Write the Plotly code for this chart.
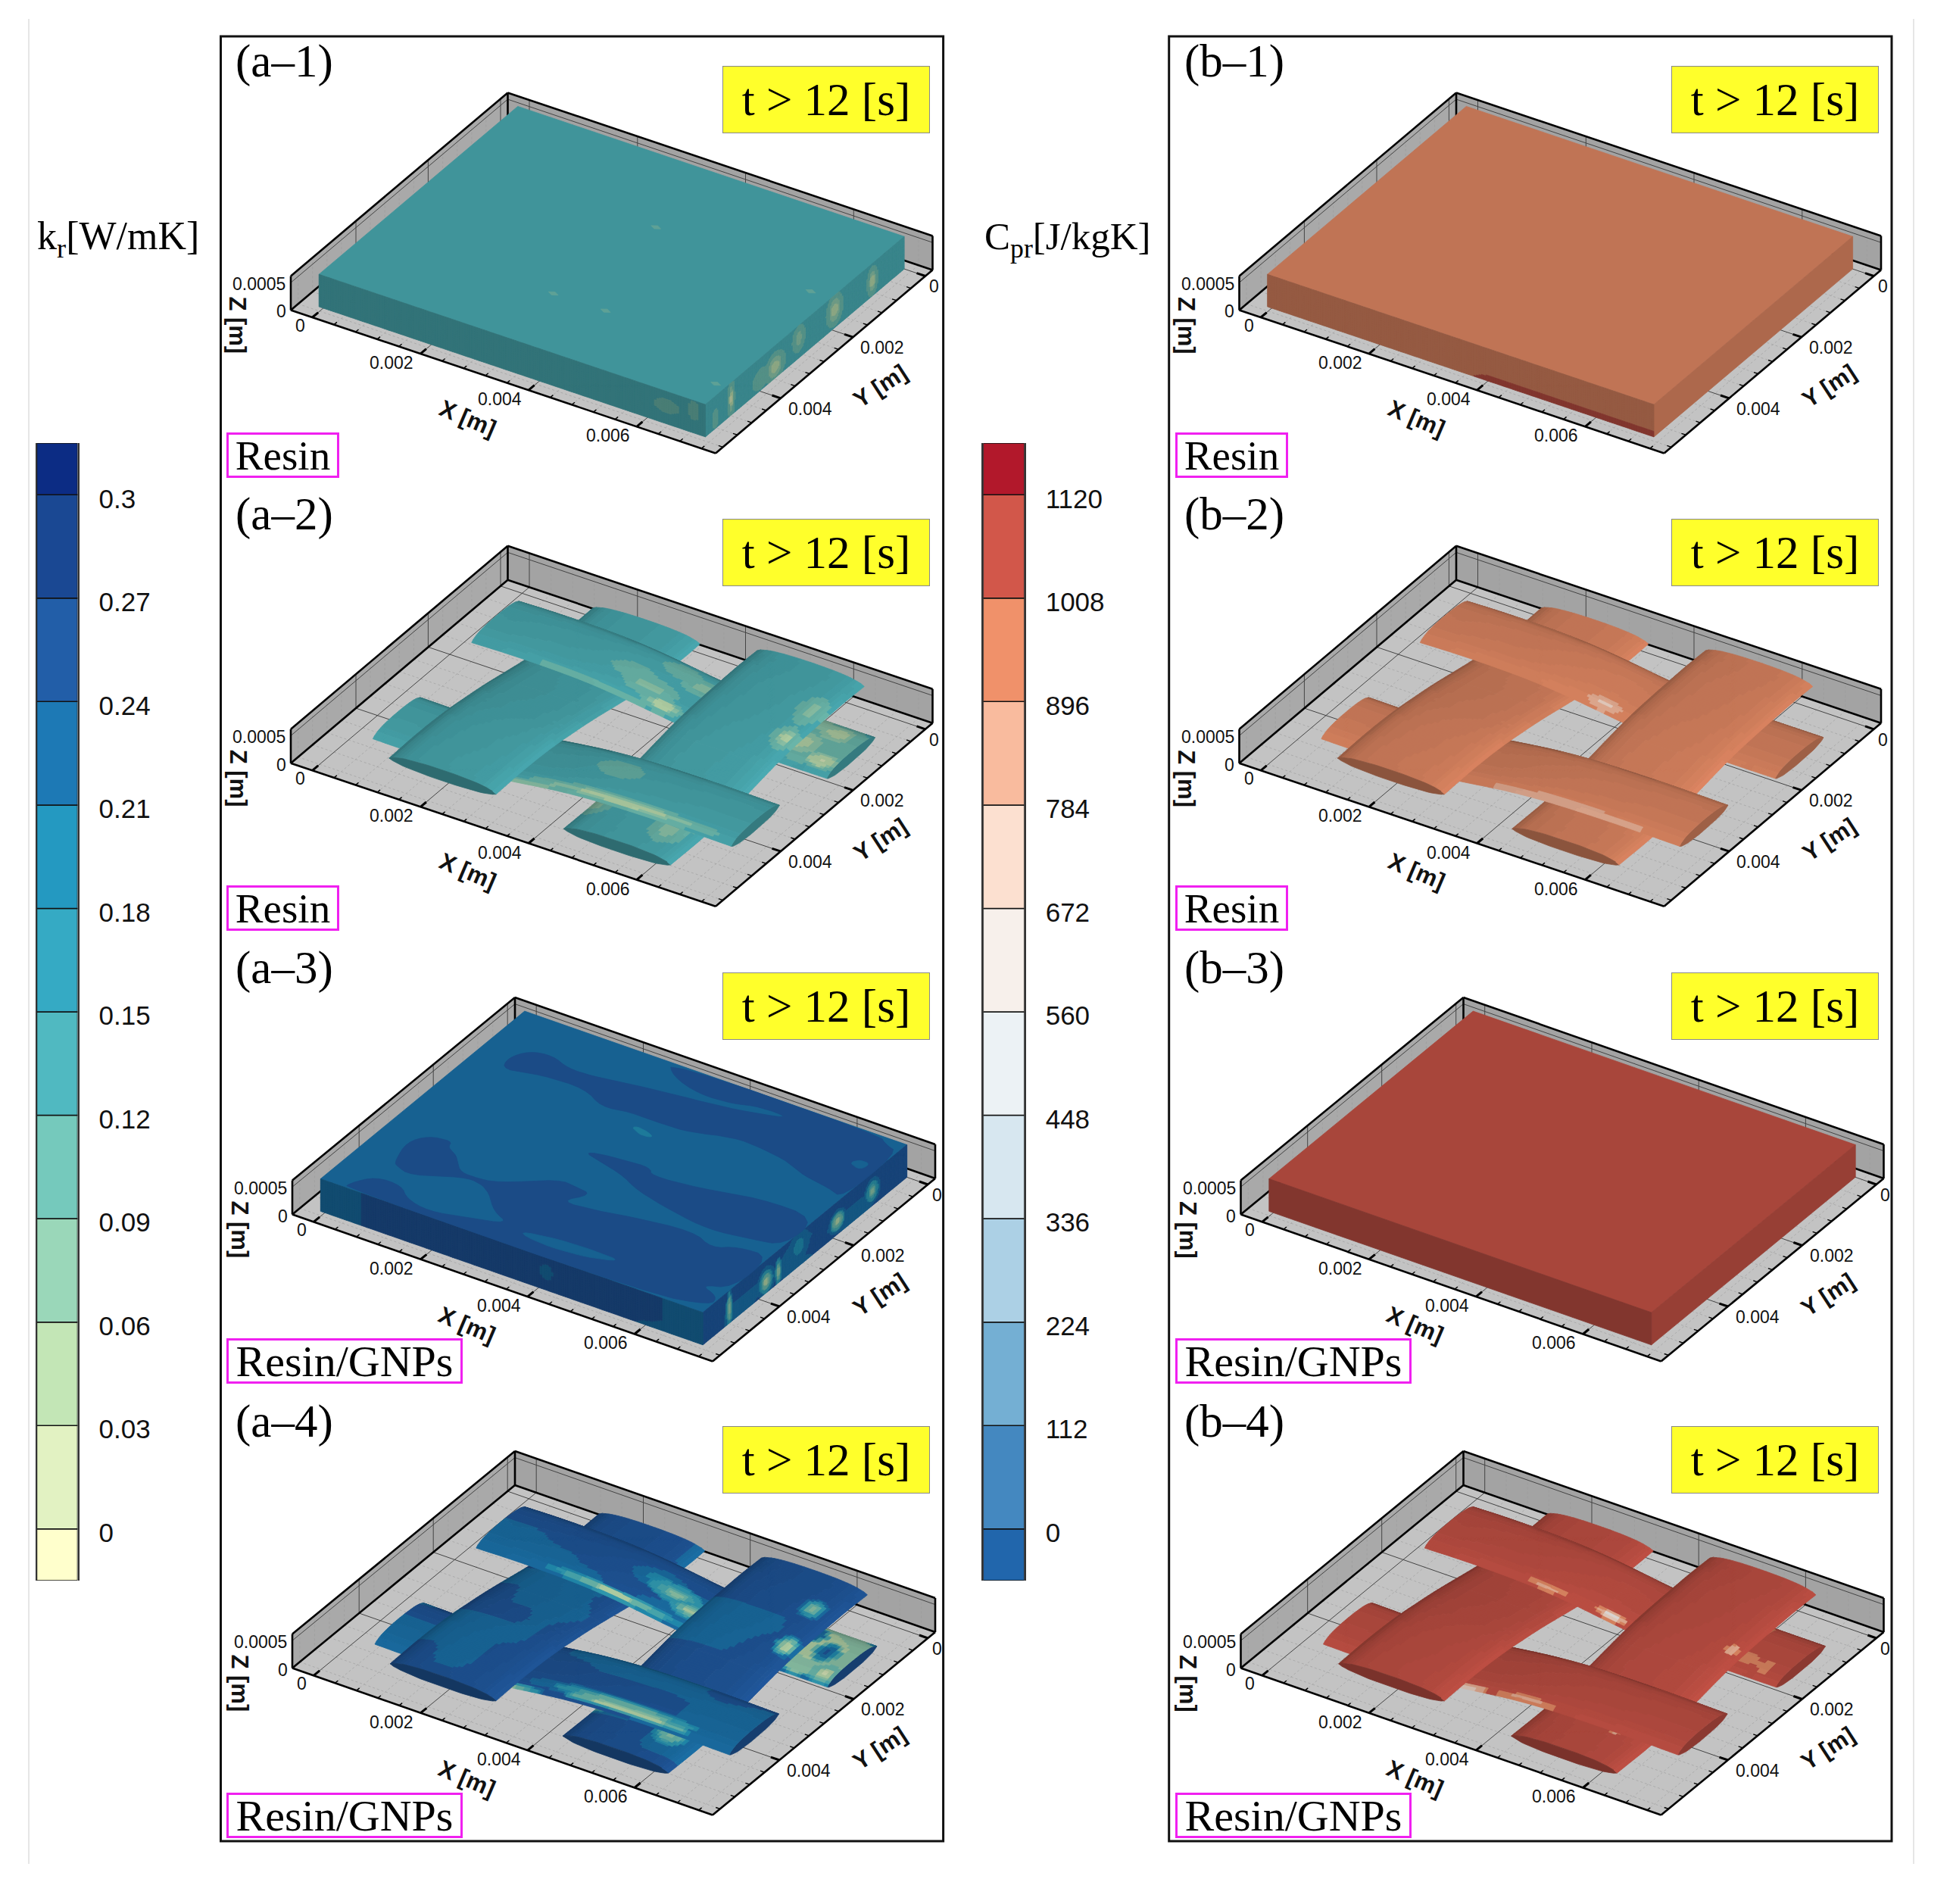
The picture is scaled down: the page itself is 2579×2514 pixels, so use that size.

import numpy as np
import plotly.graph_objects as go

W, H = 2579, 2514
def fx(x): return x / W
def fy(y): return 1 - y / H

# ---- data ----
KR_TICKS = [0, 0.03, 0.06, 0.09, 0.12, 0.15, 0.18, 0.21, 0.24, 0.27, 0.3]
CP_TICKS = [0, 112, 224, 336, 448, 560, 672, 784, 896, 1008, 1120]
KR_COLORS = ["#ffffcc", "#e2f2c2", "#c3e6b6", "#9ad7b9", "#75c9bc", "#50b9c1", "#35aac4", "#2499c1", "#1d79b5", "#225ea8", "#1a4893", "#0c2c84"]
CP_COLORS = ["#2166ac", "#4488c0", "#74afd3", "#acd0e5", "#d7e7f0", "#ecf2f5", "#f7f0eb", "#fce0d0", "#f9bb9e", "#f0916a", "#d2574a", "#b2182b"]
X_TICKS = [0, 0.002, 0.004, 0.006]
Y_TICKS = [0, 0.002, 0.004]
Z_TICKS = [0, 0.0005]
X_RANGE = [-0.0004, 0.00746]
Y_RANGE = [-0.0002, 0.0058]
Z_RANGE = [0, 0.00062]
BLOCK_X = [-0.00008, 0.00707]
BLOCK_Y = [0, 0.0055]
BLOCK_Z = [0, 0.00059]

ETA = [-1, -0.97, -0.9, -0.8, -0.6, -0.3, 0, 0.3, 0.6, 0.8, 0.9, 0.97, 1]
THK = [0, 0.25, 0.45, 0.62, 0.84, 0.97, 1, 0.97, 0.84, 0.62, 0.45, 0.25, 0]
HALF_THICK = 0.00011
S_X = [0.00045, 0.001, 0.0017, 0.0024, 0.003, 0.0036, 0.0042, 0.0048, 0.0055, 0.0062, 0.00707]
S_Y = [0.0054, 0.0049, 0.0044, 0.0039, 0.0034, 0.0028, 0.0022, 0.0016, 0.001, 0.0005, 0.0]
TOW1_Z = [0.00040, 0.00042, 0.00042, 0.00041, 0.00037, 0.00030, 0.00022, 0.00017, 0.00016, 0.00016, 0.00017]
TOW2_Z = [0.00017, 0.00016, 0.00016, 0.00018, 0.00024, 0.00032, 0.00038, 0.00041, 0.00042, 0.00042, 0.00040]
TOW3_Z = [0.00038, 0.00041, 0.00042, 0.00042, 0.00039, 0.00032, 0.00024, 0.00018, 0.00016, 0.00016, 0.00017]
TOW4_Z = [0.00017, 0.00016, 0.00016, 0.00018, 0.00024, 0.00032, 0.00038, 0.00041, 0.00042, 0.00042, 0.00040]
TOW1_C = [0.0014, 0.0014, 0.0014, 0.00141, 0.00142, 0.00143, 0.00144, 0.00145, 0.00146, 0.00147, 0.00148]
TOW2_C = [0.00413, 0.00413, 0.00413, 0.00413, 0.00413, 0.00412, 0.00412, 0.00412, 0.00412, 0.00412, 0.00412]
TOW3_C = [0.00214, 0.00215, 0.00216, 0.00218, 0.0022, 0.0022, 0.00222, 0.00225, 0.00228, 0.0023, 0.0023]
TOW4_C = [0.00537, 0.00537, 0.00537, 0.00536, 0.00536, 0.00536, 0.00535, 0.00535, 0.00535, 0.00534, 0.00534]
TOW_HW_X = 0.00067   # half width of the tows along X
TOW_HW_Y = 0.00099   # half width of the tows along Y

# colour band digit per grid vertex of a tow: rows follow the stations, columns run across the tow
A4_T1 = ["9998888","9998888","9999888","9999988","9999999","9999988","9998888","9988888","9988889","8888888","8888888"]
A4_T2 = ["8998888","9998888","9999888","9999999","9999999","8899999","8889999","8889999","8889998","9988888","9888888"]
A4_T3 = ["9999999","9988999","8888999","8888899","9999899","9988889","8888899","9998889","9999999","9999998","9999998"]
A4_T4 = ["9999999","9999888","8889988","8899988","9999999","9999999","8888999","8888899","9999999","9999999","9999999"]

# nested contour spots on a tow: position along, position across, radius along, radius across, bands from outside to inside
A2_P1 = [(0.0027,0.96,0.0011,0.06,"43"), (0.0031,0.15,0.0004,0.25,"4"), (0.0035,0.4,0.0005,0.3,"43"), (0.0039,0.75,0.0004,0.2,"4321"), (0.0037,-0.55,0.00035,0.25,"4"),
         (0.0042,-0.3,0.0004,0.3,"43"), (0.0064,-0.15,0.00075,1.0,"4"), (0.0062,0.2,0.0004,0.4,"32"), (0.0066,-0.5,0.0003,0.35,"32"),
         (0.0061,-0.7,0.0003,0.3,"3"), (0.0068,0.6,0.0003,0.25,"321")]
A2_P2 = [(0.0045,-0.2,0.0004,0.3,"4"), (0.0032,0.96,0.0007,0.06,"3"), (0.0050,0.85,0.0018,0.12,"4321")]
A2_P4 = [(0.0019,0.8,0.0003,0.2,"432"), (0.0011,0.75,0.0004,0.2,"43"), (0.0046,-0.9,0.0003,0.25,"43"), (0.0047,0.5,0.0004,0.3,"43"), (0.00445,0.0,0.00015,1.0,"4")]
A4_P1 = [(0.0030,0.87,0.0013,0.1,"6431"), (0.0034,-0.1,0.0005,0.35,"87"), (0.0038,0.1,0.0005,0.3,"653"), (0.0042,0.4,0.0004,0.25,"642"), (0.0064,-0.15,0.00085,1.1,"32"),
         (0.0066,0.0,0.0002,0.4,"79"), (0.0062,-0.5,0.00015,0.3,"8"), (0.0069,0.7,0.00025,0.3,"431")]
A4_P2 = [(0.0029,0.96,0.0007,0.08,"641"), (0.0050,0.7,0.0018,0.18,"8643"), (0.0051,0.85,0.0012,0.08,"421")]
A4_P4 = [(0.0009,0.6,0.00025,0.2,"753"), (0.0019,0.8,0.00025,0.18,"6421"), (0.0046,0.5,0.0003,0.3,"643"), (0.0044,-0.9,0.0002,0.2,"52")]
B2_P1 = [(0.0038,0.8,0.0003,0.15,"87")]
B2_P2 = [(0.0050,0.92,0.0015,0.05,"8")]
B4_P1 = [(0.0039,0.85,0.0003,0.1,"86"), (0.0027,0.9,0.0005,0.04,"8"), (0.0061,-0.7,0.00012,0.2,"9"), (0.00605,-0.7,0.00006,0.12,"43"), (0.0062,0.5,0.0003,0.25,"9"), (0.0067,0.6,0.00015,0.25,"9")]
B4_P2 = [(0.0042,0.92,0.0006,0.05,"8"), (0.0030,0.96,0.0005,0.05,"7")]
B4_P4 = [(0.0045,0.4,0.0002,0.05,"8"), (0.0020,0.82,0.00015,0.08,"8")]

# contour regions of the top face of a-3, as fractions of the block in X and Y
A3_DARK_A = [(.09,.277),(.073,.223),(.097,.161),(.151,.145),(.208,.176),(.269,.173),(.354,.151),(.456,.13),(.562,.114),(.662,.087),(.726,.059),(.645,.055),(.591,.083),(.504,.092),(.417,.055),(.379,0),(.93,0),(.96,.03),(1,.045),(1,.318),(.954,.295),(.878,.28),(.826,.246),(.736,.226),(.665,.222),(.574,.265),(.508,.271),(.416,.268),(.353,.288),(.285,.236),(.174,.241)]
A3_DARK_B = [(.43,.508),(.443,.49),(.516,.477),(.581,.471),(.598,.503),(.714,.486),(.849,.439),(1,.44),(1,.599),(.924,.623),(.821,.644),(.717,.621),(.608,.586),(.536,.537)]
A3_DARK_C = [(.096,.812),(.076,.722),(.102,.663),(.157,.649),(.164,.683),(.197,.702),(.235,.763),(.273,.77),(.335,.758),(.439,.653),(.488,.66),(.533,.669),(.487,.744),(.581,.729),(.649,.706),(.803,.674),(.872,.718),(.917,.674),(1,.668),(1,.855),(.933,.887),(.99,.911),(.999,.958),(.862,1),(.064,1),(.063,.975),(.097,.91),(.165,.91),(.201,.956),(.27,.978),(.356,.947),(.446,.913),(.39,.882),(.342,.814),(.303,.784),(.257,.783),(.158,.854),(.107,.834)]
A3_LIGHT_D = [(.472,.93),(.572,.904),(.672,.9),(.738,.905),(.66,.941),(.551,.951)]
A3_LIGHT_F = [(.934,.16),(.947,.131),(.976,.133),(.969,.174)]
A3_SPOT_E = [(.454,.329),(.47,.316),(.521,.337),(.494,.351)]

# spots on the side faces: fraction along, fraction of height, radius along, radius of height, bands outside to inside
A1_RIGHT_SPOTS = [(.16,.46,.025,.45,"432"), (.35,.55,.04,.5,"432"), (.53,.6,.03,.4,"43"), (.65,.35,.05,.45,"432"), (.72,.35,.04,.3,"4"), (.87,.5,.015,.6,"431"), (.95,.3,.01,.3,"4")]
A1_FRONT_SPOTS = [(.9,.55,.03,.2,"4"), (.97,.7,.01,.3,"4")]
A3_RIGHT_SPOTS = [(.17,.45,.035,.4,"8653"), (.34,.4,.04,.35,"8542"), (.53,.6,.05,.45,"87"), (.63,.35,.012,.4,"642"), (.69,.35,.04,.45,"8642"), (.87,.45,.012,.55,"642")]
A3_FRONT_SPOTS = [(.59,.55,.015,.25,"8")]
A3_RIGHT = ["999889988998899","999888998888899","999999988999999","999999999999999"]
A3_FRONT = ["889999999999888","889999999999988","889999999999988","889999999999988"]
B1_FRONT = ["99999999aaaaaaa","999999999999999","999999999999999","999999999999999"]
A1_SPOTS_X = [0.00364, 0.00332, 0.00428, 0.00688, 0.00669]
A1_SPOTS_Y = [0.00174, 0.0041, 0.00409, 0.00493, 0.00202]

BANDS = "0123456789ab"
LIGHT_VEC = np.array([0.575, -0.395, 0.718])
VIEW_VEC = np.array([0.4525, -0.7183, 0.5278])
HALF_VEC = (LIGHT_VEC + VIEW_VEC) / np.linalg.norm(LIGHT_VEC + VIEW_VEC)

# panel placement on the page (left floor corner and the on-page length of the axes)
CORNER_Y = [409.4, 1007.7, 1603.5, 2202.5]
CORNER_X = [384, 384, 386, 386]
VEC_X = [(561, 189), (561, 189), (555, 194), (555, 194)]
VEC_Y = [(286.5, -242), (286.5, -242), (294, -241.6), (294, -241.6)]
Z_SCALE = 72500.0
COL_DX = 1252.5
ROW_DY = [0, 598.5, 1196.5, 1796]
FRAME_X = [(291.5, 1245.6), (1543.7, 2498)]

def project(row, col, X, Y, Z):
    X, Y, Z = np.asarray(X, float), np.asarray(Y, float), np.asarray(Z, float)
    a = (X - X_RANGE[0]) / (X_RANGE[1] - X_RANGE[0])
    b = (Y_RANGE[1] - Y) / (Y_RANGE[1] - Y_RANGE[0])
    u = CORNER_X[row] + col * COL_DX + a * VEC_X[row][0] + b * VEC_Y[row][0]
    v = CORNER_Y[row] + a * VEC_X[row][1] + b * VEC_Y[row][1] - Z * Z_SCALE
    return u, v

def shade_hex(c, f):
    r, g, b = int(c[1:3], 16), int(c[3:5], 16), int(c[5:7], 16)
    q = lambda v: max(0, min(255, int(round(v * f))))
    return f"rgb({q(r)},{q(g)},{q(b)})"

class Layer:
    def __init__(self): self.groups = {}
    def add(self, color, xs, ys):
        g = self.groups.setdefault(color, ([], []))
        g[0].extend(np.round(xs, 1).tolist() + [None]); g[1].extend(np.round(ys, 1).tolist() + [None])

fig = go.Figure()

def flush(layer, ax):
    for color, (xs, ys) in layer.groups.items():
        fig.add_trace(go.Scatter(x=xs, y=ys, mode="lines", fill="toself", fillcolor=color, line=dict(color=color, width=0.8),
                                 xaxis=f"x{ax}", yaxis=f"y{ax}", hoverinfo="skip", showlegend=False))

def line(ax, xs, ys, color="black", width=1, dash=None):
    fig.add_trace(go.Scatter(x=xs, y=ys, mode="lines", line=dict(color=color, width=width, dash=dash), xaxis=f"x{ax}", yaxis=f"y{ax}",
                             hoverinfo="skip", showlegend=False, connectgaps=False))

def smooth(a, k=7):
    pad = k // 2
    return np.convolve(np.pad(a, pad, mode="edge"), np.ones(k) / k, mode="valid")

def levels_fine(rows, base, tf, ef):
    if rows is None:
        return np.full((len(tf), len(ef)), float(BANDS.index(base)))
    m = np.array([[BANDS.index(ch) for ch in r] for r in rows], float)
    t0 = np.arange(m.shape[0]); e0 = np.linspace(-1, 1, m.shape[1])
    a = np.array([np.interp(tf, t0, m[:, j]) for j in range(m.shape[1])]).T
    return np.array([np.interp(ef, e0, a[i]) for i in range(len(tf))])

def apply_spots(L, A, B, spots):
    for (a0, b0, ra, rb, seq) in spots or []:
        n = len(seq)
        for k, ch in enumerate(seq):
            f = 1 - k / n
            L[((A - a0) / (ra * f)) ** 2 + ((B - b0) / (rb * f)) ** 2 < 1] = BANDS.index(ch)
    return L

def shade_factor(n):
    nl = np.clip(n @ LIGHT_VEC, 0, None); nh = np.clip(n @ HALF_VEC, 0, None)
    return 0.40 + 0.557 * nl + 0.16 * nh ** 40

def tow(row, col, along, stations, cen, zc, hw, rows, spots, base, colors, high_test, cap_end, low, high):
    nt, ne = 120, 33
    t0 = np.arange(len(stations))
    tf = np.linspace(0, len(stations) - 1, nt)
    ef = np.linspace(-1, 1, ne)
    s = np.interp(tf, t0, stations)
    z = smooth(np.interp(tf, t0, zc), 15); c = smooth(np.interp(tf, t0, cen), 15)
    th = smooth(np.interp(ef, ETA, THK), 5); th[0] = th[-1] = 0
    S, E = np.meshgrid(s, ef, indexing="ij")
    Zs = z[:, None] + th[None, :] * HALF_THICK
    Cr = c[:, None] + E * hw
    if along == "x": X, Y = S, Cr
    else: X, Y = Cr, S
    P = np.stack([X, -Y, Zs], axis=-1)
    du = np.gradient(P, axis=0); dv = np.gradient(P, axis=1)
    N = np.cross(du, dv); N /= np.linalg.norm(N, axis=-1, keepdims=True) + 1e-30
    N *= np.sign(N[..., 2:3] + 1e-30)
    F = shade_factor(N)
    L = apply_spots(levels_fine(rows, base, tf, ef), S, E, spots)
    U, V = project(row, col, X, Y, Zs)
    for i in range(nt - 1):
        target = high if high_test(s[i]) else low
        for j in range(ne - 1):
            band = int(np.clip(round(L[i:i+2, j:j+2].mean()), 0, 11))
            f = round(F[i:i+2, j:j+2].mean() / 0.02) * 0.02
            target.add(shade_hex(colors[band], f),
                       [U[i, j], U[i + 1, j], U[i + 1, j + 1], U[i, j + 1], U[i, j]],
                       [V[i, j], V[i + 1, j], V[i + 1, j + 1], V[i, j + 1], V[i, j]])
    # lens shaped end of the tow
    i = cap_end
    zlow = z[i] - th * HALF_THICK * 0.8
    capz = np.concatenate([Zs[i], zlow[::-1]])
    capx = np.concatenate([X[i], X[i][::-1]]); capy = np.concatenate([Y[i], Y[i][::-1]])
    cu, cv = project(row, col, capx, capy, capz)
    (high if high_test(s[i]) else low).add(shade_hex(colors[BANDS.index(base)], 0.66 if along == "x" else 0.58), cu, cv)

def face(row, col, layer, pts, rows, spots, base, colors, f, n1, n2):
    # pts: 3D origin of the face, end of its height direction, end of its long direction
    o, p1, p2 = [np.array(p, float) for p in pts]
    if rows is None and not spots:
        c = o + (p1 - o) + (p2 - o)
        u, v = project(row, col, [o[0], p1[0], c[0], p2[0], o[0]], [o[1], p1[1], c[1], p2[1], o[1]], [o[2], p1[2], c[2], p2[2], o[2]])
        layer.add(shade_hex(colors[BANDS.index(base)], f), u, v)
        return
    a = np.linspace(0, 1, n1); b = np.linspace(0, 1, n2)
    if rows is None:
        g = np.full((n1, n2), float(BANDS.index(base)))
    else:
        m = np.array([[BANDS.index(ch) for ch in r] for r in rows], float)
        a0 = np.linspace(0, 1, m.shape[0]); b0 = np.linspace(0, 1, m.shape[1])
        t = np.array([np.interp(a, a0, m[:, j]) for j in range(m.shape[1])]).T
        g = np.array([np.interp(b, b0, t[i]) for i in range(n1)])
    B, A = np.meshgrid(b, a)
    g = apply_spots(g, B, A, spots)
    for i in range(n1 - 1):
        for j in range(n2 - 1):
            band = int(np.clip(round(g[i:i+2, j:j+2].mean()), 0, 11))
            q = [(a[i], b[j]), (a[i + 1], b[j]), (a[i + 1], b[j + 1]), (a[i], b[j + 1]), (a[i], b[j])]
            xyz = np.array([o + (p1 - o) * s + (p2 - o) * t for s, t in q])
            u, v = project(row, col, xyz[:, 0], xyz[:, 1], xyz[:, 2])
            layer.add(shade_hex(colors[band], f), u, v)

def chaikin(pts, n=3):
    p = np.array(pts, float)
    for _ in range(n):
        q = np.roll(p, -1, axis=0)
        p = np.stack([0.75 * p + 0.25 * q, 0.25 * p + 0.75 * q], axis=1).reshape(-1, 2)
    return np.vstack([p, p[:1]])

def region(row, col, ax, poly, color):
    p = chaikin(poly, 2)
    x = BLOCK_X[0] + p[:, 0] * (BLOCK_X[1] - BLOCK_X[0]); y = BLOCK_Y[0] + p[:, 1] * (BLOCK_Y[1] - BLOCK_Y[0])
    u, v = project(row, col, x, y, [BLOCK_Z[1]] * len(x))
    l = Layer(); l.add(color, u, v); flush(l, ax)

def block(row, col, ax, right, right_spots, front, front_spots, base, colors):
    x0, x1 = BLOCK_X; y0, y1 = BLOCK_Y; z0, z1 = BLOCK_Z
    top = Layer()
    face(row, col, top, [(x0, y0, z1), (x0, y1, z1), (x1, y0, z1)], None, None, base, colors, 0.80, 2, 2)
    lay2 = Layer()
    face(row, col, lay2, [(x1, y0, z0), (x1, y0, z1), (x1, y1, z0)], right, right_spots, base, colors, 0.72, 40, 160)
    lay3 = Layer()
    face(row, col, lay3, [(x0, y1, z0), (x0, y1, z1), (x1, y1, z0)], front, front_spots, base, colors, 0.62, 30, 160)
    for l in (top, lay2, lay3): flush(l, ax)

def background(row, col, ax):
    xa, xb = X_RANGE; ya, yb = Y_RANGE; zt = Z_RANGE[1]
    def poly(color, pts):
        p = np.array(pts)
        u, v = project(row, col, p[:, 0], p[:, 1], p[:, 2])
        l = Layer(); l.add(color, u, v); flush(l, ax)
    poly("#a9a9a9", [(xa, ya, 0), (xa, yb, 0), (xa, yb, zt), (xa, ya, zt), (xa, ya, 0)])
    poly("#a3a3a3", [(xa, ya, 0), (xb, ya, 0), (xb, ya, zt), (xa, ya, zt), (xa, ya, 0)])
    poly("#c3c3c3", [(xa, ya, 0), (xb, ya, 0), (xb, yb, 0), (xa, yb, 0), (xa, ya, 0)])
    def seg_list(segs, color, width, dash=None):
        xs, ys = [], []
        for (a, b) in segs:
            u, v = project(row, col, [a[0], b[0]], [a[1], b[1]], [a[2], b[2]])
            xs += u.round(1).tolist() + [None]; ys += v.round(1).tolist() + [None]
        line(ax, xs, ys, color, width, dash)
    xminor = [v * 0.0004 for v in range(0, 19) if v % 5]
    yminor = [v * 0.0004 for v in range(0, 15) if v % 5]
    minor = []
    for v in xminor:
        minor += [((v, ya, 0), (v, yb, 0)), ((v, ya, 0), (v, ya, zt))]
    for v in yminor:
        minor += [((xa, v, 0), (xb, v, 0)), ((xa, v, 0), (xa, v, zt))]
    seg_list(minor, "#9a9a9a", 0.6, "dot")
    major = []
    for v in X_TICKS:
        major += [((v, ya, 0), (v, yb, 0)), ((v, ya, 0), (v, ya, zt))]
    for v in Y_TICKS:
        major += [((xa, v, 0), (xb, v, 0)), ((xa, v, 0), (xa, v, zt))]
    major += [((xa, ya, 0.0005), (xb, ya, 0.0005)), ((xa, ya, 0.0005), (xa, yb, 0.0005))]
    seg_list(major, "#444444", 1)
    thick = [((xa, yb, 0), (xa, ya, 0)), ((xa, ya, 0), (xb, ya, 0)), ((xa, yb, zt), (xa, ya, zt)), ((xa, ya, zt), (xb, ya, zt)),
             ((xa, yb, 0), (xa, yb, zt)), ((xa, ya, 0), (xa, ya, zt)), ((xb, ya, 0), (xb, ya, zt)),
             ((xa, yb, 0), (xb, yb, 0)), ((xb, yb, 0), (xb, ya, 0))]
    seg_list(thick, "black", 2.6)
    ticks = [((v, yb, 0), (v, yb - 0.00016, 0)) for v in X_TICKS] + [((xb, v, 0), (xb - 0.00016, v, 0)) for v in Y_TICKS]
    seg_list(ticks, "black", 3)
    mt = [((v, yb, 0), (v, yb - 0.00008, 0)) for v in xminor] + [((xb, v, 0), (xb - 0.00008, v, 0)) for v in yminor]
    seg_list(mt, "black", 1.4)

annotations, shapes = [], []
AXFONT = dict(family="Liberation Sans", size=23, color="#111")
TITLEFONT = dict(family="Liberation Sans", size=31, color="#111")
def axis_labels(row, col, ax):
    def a(X, Y, Z, t, dx, dy, font=AXFONT, angle=0):
        u, v = project(row, col, X, Y, Z)
        annotations.append(dict(x=float(u) + dx, y=float(v) + dy, xref=f"x{ax}", yref=f"y{ax}", text=t, showarrow=False, font=font, textangle=angle,
                                xanchor="center", yanchor="middle"))
    xa, xb = X_RANGE; ya, yb = Y_RANGE
    for v in X_TICKS:
        a(v, yb, 0, "0" if v == 0 else str(v), -16 if v == 0 else -38, 11 if v == 0 else 12)
    for v in Y_TICKS:
        a(xb, v, 0, "0" if v == 0 else str(v), 12 if v == 0 else 39, 14)
    a(xa, yb, 0, "0", -13, 2)
    a(xa, yb, 0.0005, "0.0005", -42, 2)
    a(0.004, yb, 0, "<b>X [m]</b>", -80, 37, TITLEFONT, 23)
    a(xb, 0.004, 0, "<b>Y [m]</b>", 132, -16, TITLEFONT, -33)
    a(xa, yb, 0, "<b>Z [m]</b>", -70, 20, TITLEFONT, 90)

# colour keys on the first two axis pairs
def key(colors, ticks, step, ax):
    xa = "x" if ax == 1 else "x2"; ya = "y" if ax == 1 else "y2"
    lo = [ticks[0] - step / 2] + ticks
    hi = ticks + [ticks[-1] + step / 2]
    for b, t, c in zip(lo, hi, colors):
        fig.add_trace(go.Bar(x=[0], y=[t - b], base=[b], marker=dict(color=c, line=dict(color="#111", width=1.5)),
                             width=1, xaxis=xa, yaxis=ya, showlegend=False, hoverinfo="skip"))
key(KR_COLORS, KR_TICKS, KR_TICKS[1], 1)
key(CP_COLORS, CP_TICKS, CP_TICKS[1], 2)

TOWS = {
    (1, 0): ("5", KR_COLORS, [None] * 4, [A2_P1, A2_P2, None, A2_P4]),
    (3, 0): ("9", KR_COLORS, [A4_T1, A4_T2, A4_T3, A4_T4], [A4_P1, A4_P2, None, A4_P4]),
    (1, 1): ("9", CP_COLORS, [None] * 4, [B2_P1, B2_P2, None, None]),
    (3, 1): ("a", CP_COLORS, [None] * 4, [B4_P1, B4_P2, None, B4_P4]),
}
BLOCKS = {
    (0, 0): ("5", KR_COLORS, None, A1_RIGHT_SPOTS, None, A1_FRONT_SPOTS),
    (2, 0): ("8", KR_COLORS, A3_RIGHT, A3_RIGHT_SPOTS, A3_FRONT, A3_FRONT_SPOTS),
    (0, 1): ("9", CP_COLORS, None, None, B1_FRONT, None),
    (2, 1): ("a", CP_COLORS, None, None, None, None),
}
layout_axes = {}
for col in range(2):
    for row in range(4):
        ax = 3 + row + 4 * col
        x0, x1 = FRAME_X[col]
        y0 = 49 + 598.5 * row; y1 = y0 + 598.5
        layout_axes[f"xaxis{ax}"] = dict(domain=[fx(x0), fx(x1)], range=[x0, x1], visible=False, fixedrange=True, anchor=f"y{ax}")
        layout_axes[f"yaxis{ax}"] = dict(domain=[fy(y1), fy(y0)], range=[y1, y0], visible=False, fixedrange=True, anchor=f"x{ax}")
        background(row, col, ax)
        if (row, col) in TOWS:
            base, colors, rows, spots = TOWS[(row, col)]
            low, high = Layer(), Layer()
            tow(row, col, "x", S_X, TOW1_C, TOW1_Z, TOW_HW_X, rows[0], spots[0], base, colors, lambda s: s < 0.0037, -1, low, high)
            tow(row, col, "x", S_X, TOW2_C, TOW2_Z, TOW_HW_X, rows[1], spots[1], base, colors, lambda s: s > 0.0035, -1, low, high)
            tow(row, col, "y", S_Y, TOW3_C, TOW3_Z, TOW_HW_Y, rows[2], spots[2], base, colors, lambda s: s > 0.0027, 0, low, high)
            tow(row, col, "y", S_Y, TOW4_C, TOW4_Z, TOW_HW_Y, rows[3], spots[3], base, colors, lambda s: s < 0.0027, 0, low, high)
            flush(low, ax); flush(high, ax)
        else:
            base, colors, right, rspots, front, fspots = BLOCKS[(row, col)]
            block(row, col, ax, right, rspots, front, fspots, base, colors)
            if (row, col) == (2, 0):
                for poly in (A3_DARK_A, A3_DARK_B, A3_DARK_C):
                    region(row, col, ax, poly, shade_hex(colors[9], 0.8))
                for poly in (A3_LIGHT_D, A3_LIGHT_F):
                    region(row, col, ax, poly, shade_hex(colors[8], 0.8))
                region(row, col, ax, A3_SPOT_E, shade_hex(colors[7], 0.8))
            if (row, col) == (0, 0):
                l = Layer()
                for sx, sy in zip(A1_SPOTS_X, A1_SPOTS_Y):
                    dxs = np.array([-1, 0, 1, 0, -1]) * 0.00009
                    dys = np.array([0, -1, 0, 1, 0]) * 0.00005
                    u, v = project(row, col, sx + dxs, sy + dys, [BLOCK_Z[1]] * 5)
                    l.add(shade_hex(colors[4], 0.8), u, v)
                flush(l, ax)
        axis_labels(row, col, ax)

SERIF = "Liberation Serif"
LAB = ["1", "2", "3", "4"]
MAT = ["Resin", "Resin", "Resin/GNPs", "Resin/GNPs"]
for col, L in enumerate("ab"):
    dx = col * COL_DX
    f0, f1 = FRAME_X[col]
    shapes.append(dict(type="rect", xref="paper", yref="paper", x0=fx(f0), x1=fx(f1), y0=fy(48), y1=fy(2431), line=dict(color="#111", width=3), layer="above"))
    for r in range(4):
        dy = ROW_DY[r]
        annotations.append(dict(x=fx(309 + dx), y=fy(81 + dy), xref="paper", yref="paper", text=f"({L}–{LAB[r]})", showarrow=False,
                                xanchor="left", yanchor="middle", font=dict(family=SERIF, size=61, color="black")))
        annotations.append(dict(x=fx(1091 + dx), y=fy(131.5 + dy), xref="paper", yref="paper", text="t > 12 [s]", showarrow=False,
                                xanchor="center", yanchor="middle", width=272, height=87, bgcolor="#ffff2b", bordercolor="#888", borderwidth=1, borderpad=0,
                                font=dict(family=SERIF, size=61, color="black")))
        boxw = 143 if r < 2 else 306
        annotations.append(dict(x=fx(302 + dx + boxw / 2), y=fy(600.5 + dy), xref="paper", yref="paper", text=MAT[r], showarrow=False,
                                xanchor="center", yanchor="middle", width=boxw, height=54, bgcolor="white", bordercolor="#f020f0", borderwidth=3, borderpad=0,
                                font=dict(family=SERIF, size=55 if r < 2 else 58, color="black")))
annotations.append(dict(x=fx(156), y=fy(316), xref="paper", yref="paper", text="k<sub>r</sub>[W/mK]", showarrow=False, xanchor="center", yanchor="middle", font=dict(family=SERIF, size=52, color="black")))
annotations.append(dict(x=fx(1410), y=fy(316), xref="paper", yref="paper", text="C<sub>pr</sub>[J/kgK]", showarrow=False, xanchor="center", yanchor="middle", font=dict(family=SERIF, size=51, color="black")))
for x in (38, 2527):
    shapes.append(dict(type="line", xref="paper", yref="paper", x0=fx(x), x1=fx(x), y0=fy(25), y1=fy(2461), line=dict(color="#e6e6e6", width=2), layer="below"))

def yax(dom, ticks, step, anchor):
    return dict(domain=dom, range=[ticks[0] - step / 2, ticks[-1] + step / 2], tickmode="array", tickvals=ticks, ticktext=[str(v) for v in ticks],
                side="right", anchor=anchor, ticks="outside", ticklen=19, tickcolor="rgba(0,0,0,0)", showgrid=False, zeroline=False, ticklabelshift=5,
                tickfont=dict(family="Liberation Sans", size=35, color="#111"), showline=True, linecolor="#333", linewidth=2, mirror=True, fixedrange=True)
DOMY = [fy(2087), fy(585)]
fig.update_layout(
    width=W, height=H, margin=dict(l=0, r=0, t=0, b=0), paper_bgcolor="white", plot_bgcolor="rgba(0,0,0,0)", showlegend=False,
    barmode="overlay", annotations=annotations, shapes=shapes,
    xaxis=dict(domain=[fx(48.5), fx(102.5)], range=[-0.5, 0.5], visible=False, fixedrange=True, anchor="y"),
    yaxis=yax(DOMY, KR_TICKS, KR_TICKS[1], "x"),
    xaxis2=dict(domain=[fx(1298.3), fx(1352.7)], range=[-0.5, 0.5], visible=False, fixedrange=True, anchor="y2"),
    yaxis2=yax(DOMY, CP_TICKS, CP_TICKS[1], "x2"),
    **layout_axes,
)
fig.write_html("out.html", post_script="document.body.style.margin='0';", config=dict(displayModeBar=False))
